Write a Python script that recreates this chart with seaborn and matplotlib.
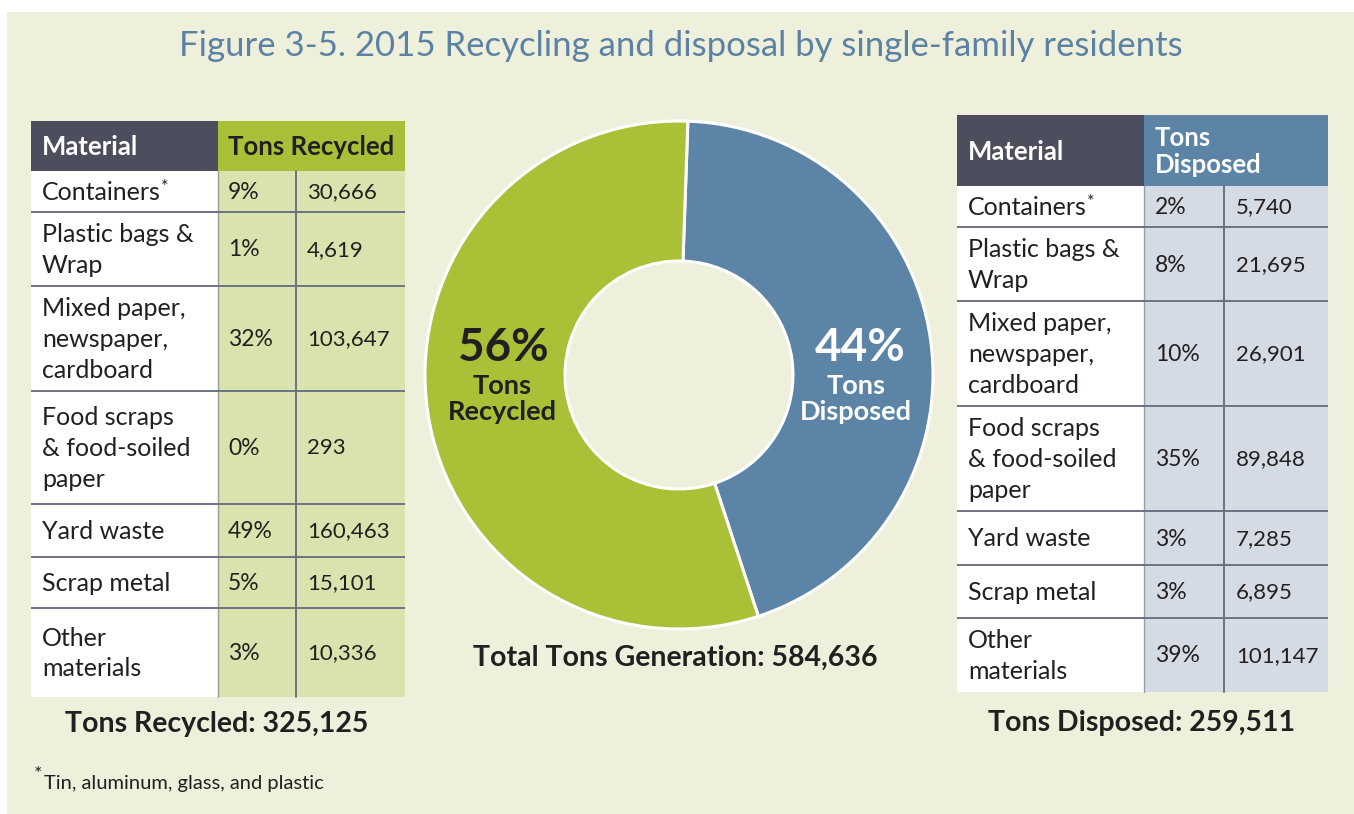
import matplotlib
matplotlib.use("Agg")
import matplotlib.pyplot as plt
from matplotlib.patches import Rectangle
import seaborn as sns

# %%
# data
materials = ["Containers", "Plastic bags &\nWrap", "Mixed paper,\nnewspaper,\ncardboard",
             "Food scraps\n& food-soiled\npaper", "Yard waste", "Scrap metal", "Other\nmaterials"]
recycled_tons = [30666, 4619, 103647, 293, 160463, 15101, 10336]
disposed_tons = [5740, 21695, 26901, 89848, 7285, 6895, 101147]
donut_labels = ["Tons\nDisposed", "Tons\nRecycled"]
title = "Figure 3-5. 2015 Recycling and disposal by single-family residents"
footnote = "Tin, aluminum, glass, and plastic"

total_recycled = sum(recycled_tons)
total_disposed = sum(disposed_tons)
total = total_recycled + total_disposed

# %%
sns.set_theme(style="white")
plt.rcParams['font.family'] = ['Lato', 'DejaVu Sans']

panel = '#eef0dc'
green = '#a9c037'
blue = '#5b84a6'
dark_head = '#4c4e5e'
ink = '#231f20'
grid = '#6e7283'

W, H = 1354, 814
fig = plt.figure(figsize=(W / 100, H / 100), dpi=100)
fig.patch.set_facecolor('white')

ax_bg = fig.add_axes([0, 0, 1, 1], zorder=0)
ax_bg.set_xlim(0, W)
ax_bg.set_ylim(H, 0)
ax_bg.axis('off')
ax_bg.add_patch(Rectangle((7, 12), W - 7, H - 12, color=panel, lw=0))

# %%
# donut
cx, cy, r_out, r_in = 679, 375, 254, 114
ax_pie = fig.add_axes([(cx - r_out) / W, (H - cy - r_out) / H, 2 * r_out / W, 2 * r_out / H], zorder=1)
ax_pie.pie([total_disposed, total_recycled], colors=[blue, green], startangle=88,
           counterclock=False, radius=1,
           wedgeprops=dict(width=1 - r_in / r_out, edgecolor='white', linewidth=2.2))
ax_pie.set_xlim(-1, 1)
ax_pie.set_ylim(-1, 1)
ax_pie.axis('off')

ax = fig.add_axes([0, 0, 1, 1], zorder=2)
ax.set_xlim(0, W)
ax.set_ylim(H, 0)
ax.axis('off')
ax.patch.set_alpha(0)

ax.text(681, 46, title, ha='center', va='center', fontsize=25, color='#5b82a4')

pct_dis = round(100 * total_disposed / total)
pct_rec = 100 - pct_dis
ax.text(503, 348, f"{pct_rec}%", ha='center', va='center', fontsize=33, fontweight='bold', color=ink)
ax.text(502, 399, donut_labels[1], ha='center', va='center', fontsize=19.5, fontweight='bold',
        color=ink, linespacing=1.12)
ax.text(860, 348, f"{pct_dis}%", ha='center', va='center', fontsize=33, fontweight='bold', color='white')
ax.text(856, 399, donut_labels[0], ha='center', va='center', fontsize=19.5, fontweight='bold',
        color='white', linespacing=1.12)
ax.text(675, 658, f"Total Tons Generation: {total:,}", ha='center', va='center',
        fontsize=20.5, fontweight='bold', color=ink)


# %%
def draw_table(x_cols, y_rows, tons, head_color, head_text, head_ink, cell_color, text_x):
    x0, x1, x2, x3 = x_cols
    y_head = y_rows[0]
    rows = y_rows[1:]
    ax.add_patch(Rectangle((x0, y_head), x1 - x0, rows[0] - y_head, color=dark_head, lw=0))
    ax.add_patch(Rectangle((x1, y_head), x3 - x1, rows[0] - y_head, color=head_color, lw=0))
    ax.add_patch(Rectangle((x0, rows[0]), x1 - x0, rows[-1] - rows[0], color='white', lw=0))
    ax.add_patch(Rectangle((x1, rows[0]), x3 - x1, rows[-1] - rows[0], color=cell_color, lw=0))
    ym = (y_head + rows[0]) / 2
    ax.text(text_x[0], ym + 1, "Material", ha='left', va='center', fontsize=18.5,
            fontweight='bold', color='white')
    ax.text(text_x[1], ym + 1, head_text, ha='left', va='center', fontsize=18.5,
            fontweight='bold', color=head_ink, linespacing=1.12)
    tot = sum(tons)
    stars = []
    for i, (m, t) in enumerate(zip(materials, tons)):
        yc = (rows[i] + rows[i + 1]) / 2
        txt = ax.text(text_x[0], yc + 1, m, ha='left', va='center', fontsize=18, color=ink,
                      linespacing=1.42)
        if i == 0:
            stars.append(txt)
        ax.text(text_x[1], yc + 1, f"{round(100 * t / tot)}%", ha='left', va='center',
                fontsize=16.5, color=ink)
        ax.text(text_x[2], yc + 1, f"{t:,}", ha='left', va='center', fontsize=16, color=ink)
        if i > 0:
            ax.plot([x0, x3], [rows[i], rows[i]], color=grid, lw=1.4, solid_capstyle='butt')
    ax.plot([x1, x1], [rows[0], rows[-1]], color=grid, lw=1.0, alpha=0.6)
    ax.plot([x2, x2], [rows[0], rows[-1]], color=grid, lw=1.4)
    return stars


stars = draw_table([31, 218, 296, 405], [121, 171, 212, 286, 391, 504, 557, 608, 697],
                   recycled_tons, '#a8c038', "Tons Recycled", ink, '#dae2ad', [42, 228, 307])
stars += draw_table([957, 1144, 1224, 1328], [115, 186, 227, 301, 406, 511, 565, 618, 692],
                    disposed_tons, blue, "Tons\nDisposed", 'white', '#d5dbe4', [968, 1155, 1236])

ax.text(217, 724, f"Tons Recycled: {total_recycled:,}", ha='center', va='center',
        fontsize=20.5, fontweight='bold', color=ink)
ax.text(1142, 723, f"Tons Disposed: {total_disposed:,}", ha='center', va='center',
        fontsize=20.5, fontweight='bold', color=ink)

ax.text(34, 774, "*", ha='left', va='center', fontsize=14, color=ink)
ax.text(44, 783, footnote, ha='left', va='center', fontsize=14.5, color=ink)

# superscript asterisk after "Containers"
fig.canvas.draw()
inv = ax.transData.inverted()
for s in stars:
    bb = s.get_window_extent()
    xr, yt = inv.transform((bb.x1, bb.y1))
    ax.text(xr, yt - 2, "*", ha='left', va='top', fontsize=13, color=ink)

fig.savefig("out.png", dpi=100, facecolor=fig.get_facecolor())
